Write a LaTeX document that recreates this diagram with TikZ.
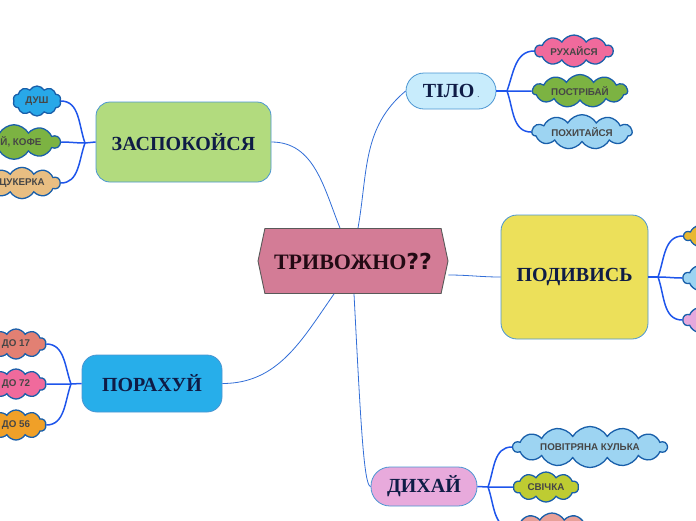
\documentclass[tikz,border=0pt]{standalone}
\usepackage{fontspec}
\setmainfont{Liberation Serif}
\newfontfamily\cloudfont{Liberation Sans}
\newfontfamily\qfont{DejaVu Sans}
\usetikzlibrary{shapes.symbols}

\definecolor{topicline}{RGB}{75,150,210}
\definecolor{topictext}{RGB}{15,28,70}
\definecolor{trvtext}{RGB}{35,10,20}
\definecolor{puffline}{RGB}{25,95,170}
\definecolor{pufftext}{RGB}{70,70,70}
\definecolor{linkblue}{RGB}{50,110,215}
\definecolor{branchblue}{RGB}{30,85,235}
\definecolor{trvfill}{RGB}{211,124,150}
\definecolor{tilofill}{RGB}{200,236,252}
\definecolor{zaspfill}{RGB}{178,219,126}
\definecolor{podfill}{RGB}{236,224,90}
\definecolor{porfill}{RGB}{39,174,234}
\definecolor{dyxfill}{RGB}{232,170,220}
\definecolor{pinkpuff}{RGB}{240,106,156}
\definecolor{greenpuff}{RGB}{124,179,66}
\definecolor{skypuff}{RGB}{157,212,242}
\definecolor{bluepuff}{RGB}{40,168,232}
\definecolor{tanpuff}{RGB}{232,190,130}
\definecolor{salmonpuff}{RGB}{226,128,115}
\definecolor{orangepuff}{RGB}{240,160,40}
\definecolor{limepuff}{RGB}{190,204,50}
\definecolor{goldpuff}{RGB}{232,184,48}
\definecolor{lilacpuff}{RGB}{230,168,220}
\definecolor{rosepuff}{RGB}{232,160,152}

\begin{document}
\begin{tikzpicture}[x=1pt,y=1pt,
  topic/.style={draw=topicline,line width=0.8pt,inner sep=0pt,text=topictext,
    font=\bfseries\fontsize{20}{20}\selectfont},
  puff/.style={cloud,cloud puffs=10,cloud puff arc=120,aspect=3.3,
    draw=puffline,line width=1.3pt,inner sep=1pt,text=pufftext,
    font=\cloudfont\bfseries\fontsize{9.8}{9.8}\selectfont},
  link/.style={draw=linkblue,line width=0.8pt},
  branch/.style={draw=branchblue,line width=1.5pt}
]
  \useasboundingbox (0,-520) rectangle (696,0);
  \clip (0,-520) rectangle (696,0);

  % centre
  \node[signal,signal to=west and east,signal pointer angle=156,draw=black!65,
    line width=0.9pt,fill=trvfill,minimum width=190pt,minimum height=65pt,
    inner sep=0pt,text=trvtext,font=\bfseries\fontsize{22}{22}\selectfont]
    (trv) at (353,-261) {ТРИВОЖНО{\qfont ??}};

  % main topics
  \node[topic,fill=tilofill,rounded corners=18pt,minimum width=90pt,minimum height=36pt]
    (tilo) at (451,-91) {ТІЛО\,{\fontsize{6}{6}\selectfont .}};
  \node[topic,fill=zaspfill,rounded corners=14pt,minimum width=175pt,minimum height=80pt]
    (zasp) at (183.5,-142) {ЗАСПОКОЙСЯ};
  \node[topic,fill=podfill,rounded corners=16pt,minimum width=147pt,minimum height=124pt]
    (pod) at (574.5,-277) {ПОДИВИСЬ};
  \node[topic,fill=porfill,rounded corners=15pt,minimum width=140pt,minimum height=57pt]
    (por) at (152,-383.5) {ПОРАХУЙ};
  \node[topic,fill=dyxfill,rounded corners=19pt,minimum width=106pt,minimum height=39pt]
    (dyx) at (424,-486.5) {ДИХАЙ};

  \draw[link] ([xshift=5pt]trv.north) to[out=80,in=-140] (tilo.west);
  \draw[link] ([xshift=-13pt]trv.north) to[out=112,in=0] (zasp.east);
  \draw[link] ([yshift=-14pt]trv.east) to[out=0,in=180] (pod.west);
  \draw[link] ([xshift=-19pt]trv.south) to[out=-125,in=0] (por.east);
  \draw[link] ([xshift=1pt]trv.south) to[out=-87,in=180,out distance=120pt,in distance=7pt] (dyx.west);

  % clouds
  \node[puff,aspect=3.4,fill=pinkpuff,minimum width=78pt,minimum height=29pt] (rux) at (574,-51) {РУХАЙСЯ};
  \node[puff,cloud puffs=11,aspect=4.2,fill=greenpuff,minimum width=95pt,minimum height=29pt] (post) at (580,-91) {ПОСТРІБАЙ};
  \node[puff,cloud puffs=11,aspect=4.3,fill=skypuff,minimum width=100pt,minimum height=31pt] (poxy) at (582,-132) {ПОХИТАЙСЯ};

  \node[puff,fill=bluepuff,minimum width=48pt,minimum height=30pt,aspect=2] (dush) at (37,-101) {ДУШ};
  \node[puff,aspect=3.8,fill=greenpuff,minimum width=92pt,minimum height=31pt] (chai) at (14,-142) {ЧАЙ, КОФЕ};
  \node[puff,aspect=3.3,fill=tanpuff,minimum width=76pt,minimum height=30pt] (cuk) at (22,-183) {ЦУКЕРКА};

  \node[puff,fill=goldpuff,minimum width=72pt,minimum height=26pt] (gold) at (720,-236) {};
  \node[puff,fill=skypuff,minimum width=72pt,minimum height=30pt] (sky) at (719,-278) {};
  \node[puff,fill=lilacpuff,minimum width=72pt,minimum height=30pt] (lilac) at (719,-320) {};

  \node[puff,fill=salmonpuff,minimum width=60pt,minimum height=30pt,aspect=2.6] (d17) at (16,-344) {ДО 17};
  \node[puff,fill=pinkpuff,minimum width=60pt,minimum height=30pt,aspect=2.6] (d72) at (16,-384) {ДО 72};
  \node[puff,fill=orangepuff,minimum width=60pt,minimum height=30pt,aspect=2.6] (d56) at (16,-425) {ДО 56};

  \node[puff,cloud puffs=14,aspect=6.2,fill=skypuff,minimum width=154pt,minimum height=31pt] (kul) at (590,-447) {ПОВІТРЯНА КУЛЬКА};
  \node[puff,fill=limepuff,minimum width=65pt,minimum height=30pt,aspect=2.8] (svi) at (546,-487) {СВІЧКА};
  \node[puff,fill=rosepuff,minimum width=78pt,minimum height=30pt] (rose) at (552,-528) {};

  % branches
  \coordinate (htilo) at (507,-91);
  \coordinate (hzasp) at (85,-143);
  \coordinate (hpod) at (658,-277);
  \coordinate (hpor) at (71,-384);
  \coordinate (hdyx) at (488,-487);
  \draw[branch] (tilo.east) -- (htilo);
  \draw[branch] (zasp.west) -- (hzasp);
  \draw[branch] (pod.east) -- (hpod);
  \draw[branch] (por.west) -- (hpor);
  \draw[branch] (dyx.east) -- (hdyx);
  \foreach \c/\o in {rux/70,post/0,poxy/-70} \draw[branch] (htilo) to[out=\o,in=180] (\c.west);
  \foreach \c/\o in {dush/110,chai/180,cuk/-110} \draw[branch] (hzasp) to[out=\o,in=0] (\c.east);
  \foreach \c/\o in {gold/70,sky/0,lilac/-70} \draw[branch] (hpod) to[out=\o,in=180] (\c.west);
  \foreach \c/\o in {d17/110,d72/180,d56/-110} \draw[branch] (hpor) to[out=\o,in=0] (\c.east);
  \foreach \c/\o in {kul/70,svi/0,rose/-70} \draw[branch] (hdyx) to[out=\o,in=180] (\c.west);
\end{tikzpicture}
\end{document}
